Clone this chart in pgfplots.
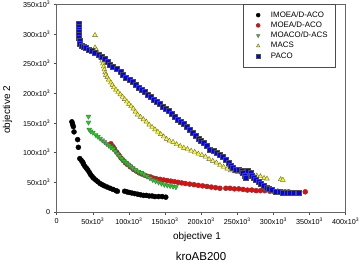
\documentclass[border=0pt]{standalone}
\usepackage{pgfplots}
\pgfplotsset{compat=1.18}
\usepackage{fontspec}
\setmainfont{Liberation Sans}
\definecolor{cBlue}{RGB}{0,0,255}
\definecolor{cGreen}{RGB}{0,230,0}
\definecolor{cYellow}{RGB}{255,255,0}
\definecolor{cRed}{RGB}{255,0,0}
\pgfplotsset{myleg/.style={legend image code/.code={\path[draw=none,fill=none] (0pt,-3pt) rectangle (20.4pt,3pt); \draw[##1, mark size=2pt] plot coordinates {(8.8pt,0pt)};}}}
\begin{document}
\begin{tikzpicture}
\path[use as bounding box] (-56.7pt,-52pt) rectangle (304.3pt,212pt);
\begin{axis}[
  scale only axis, width=289pt, height=207.7pt,
  xmin=0, xmax=400, ymin=0, ymax=350,
  xtick={0,50,...,400}, ytick={0,50,...,350},
  xticklabels={0,50x10\textsuperscript{3},100x10\textsuperscript{3},150x10\textsuperscript{3},200x10\textsuperscript{3},250x10\textsuperscript{3},300x10\textsuperscript{3},350x10\textsuperscript{3},400x10\textsuperscript{3}},
  yticklabels={0,50x10\textsuperscript{3},100x10\textsuperscript{3},150x10\textsuperscript{3},200x10\textsuperscript{3},250x10\textsuperscript{3},300x10\textsuperscript{3},350x10\textsuperscript{3}},
  tick label style={font=\fontsize{7.2}{8}\selectfont},
  xtick pos=left, ytick pos=left, tick align=outside,
  major tick length=3pt,
  axis line style={black!60},
  every tick/.style={black!70},
  xticklabel style={yshift=0.5pt},
  legend style={at={(0.963,1)}, anchor=north east, draw=black!70,
    font=\fontsize{7.9}{9}\selectfont, inner xsep=6pt, inner ysep=5.5pt,
    nodes={text height=6pt, text depth=1.85pt, inner sep=1.2pt}, row sep=0pt},
  legend cell align=left,
  clip=false,
]
\addplot[only marks, mark=*, mark size=2.5pt, mark options={fill=black, draw=black}, myleg] coordinates {
(21,152)(22,148)(23,144)(24,135)(29,122)(30,109)(32,90)(34,87)(36,84)(37,81)(39,77)(41,74)(43,71)(45,67)(47,63)(49,60)(51,57)(54,54)(57,51)(60,48)(63,46)(66,44)(70,42)(74,40)(78,38)(82,36)(84,35)
(94,35)(97,34)(100,33)(104,32)(108,31)(112,30)(116,29)(120,28)(124,28)(128,27)(132,27)(136,26)(141,26)(146,26)(151,25)
};
\addlegendentry{IMOEA/D-ACO}
\addplot[only marks, mark=*, mark size=2.5pt, mark options={fill=cRed, draw=black!70}, myleg] coordinates {
(75,115)(78,110)(80,106)(83,101)(86,96)(89,91)(92,87)(95,83)(98,80)(102,76)(106,72)(110,69)(114,66)(118,64)(122,62)(126,60)(130,59)(134,57)(138,56)(143,55)(148,54)(153,53)(158,52)(163,51)(168,50)(173,49)(178,48)(184,47)(190,46)(196,45)(202,44)(208,43)(214,42)(220,41)(226,40)(234,40)(240,40)(246,39)(252,39)(258,38)(264,37)(270,37)(276,36)(282,36)(288,36)(295,35)(300,35)(306,35)(311,34)(316,34)(321,34)(344,34)
};
\addlegendentry{MOEA/D-ACO}
\addplot[only marks, mark=triangle*, mark size=2.8pt, mark options={rotate=180, fill=cGreen, draw=black!60}, myleg] coordinates {
(44,161)(44,151)(45,139)(47,136)(50,134)(54,130)(57,127)(60,124)(63,121)(66,118)(69,115)(72,112)(75,109)(78,106)(81,102)(84,98)(87,94)(90,90)(93,86)(96,83)(99,80)(102,77)(105,74)(109,71)(113,68)(117,66)(121,63)(125,60)(129,57)(133,54)(137,52)(141,50)(145,48)(149,46)(153,45)(157,44)(161,43)(165,42)
};
\addlegendentry{MOACO/D-ACS}
\addplot[only marks, mark=triangle*, mark size=2.8pt, mark options={fill=cYellow, draw=black!60}, myleg] coordinates {
(53,298)(53,277)(55,273)(57,268)(59,264)(61,260)(63,255)(64,250)(65,245)(66,240)(67,235)(68,231)(70,227)(72,223)(75,218)(77,214)(79,210)(82,206)(85,202)(88,198)(91,194)(94,190)(97,186)(100,182)(103,178)(106,174)(109,169)(112,164)(116,160)(120,156)(124,152)(128,147)(132,143)(136,139)(140,135)(144,131)(148,127)(152,123)(156,120)(161,118)(166,114)(171,111)(176,108)(181,106)(186,103)(191,101)(196,98)(201,96)(206,93)(211,89)(216,86)(221,83)(226,79)(231,76)(236,73)(241,70)(246,68)(251,67)(256,66)(262,65)(267,64)(272,62)(277,61)(282,60)(287,57)(291,56)(310,55)(313,54)
};
\addlegendentry{MACS}
\addplot[only marks, mark=square*, mark size=2.5pt, mark options={fill=cBlue, draw=black!70}, myleg] coordinates {
(30,318)(30,313)(30,308)(30.5,303)(31,298)(31,293)(31.5,288)(32,284)(34,281)(37,279)(40,277)(44,274)(48,271)(53,268)(58,265)(62,262)(66,258)(70,254)(74,249)(78,245)(83,241)(88,236)(92,231)(96,227)(101,223)(105,219)(109,214)(113,210)(118,206)(122,203)(126,198)(130,194)(134,190)(138,186)(142,182)(147,178)(151,174)(155,170)(159,165)(163,161)(168,156)(172,152)(176,148)(180,143)(184,139)(188,134)(192,129)(196,124)(200,120)(204,116)(208,112)(212,105)(217,103)(222,100)(226,97)(230,93)(234,88)(238,83)(241,78)(244,74)(248,72)(252,71)(256,70)(258,67)(260,62)(262,58)(265,70)(268,66)(270,61)(273,58)(276,55)(279,51)(282,48)(286,44)(290,41)(294,39)(298,37)(303,35)(308,34)(313,33)(318,33)(323,33)(328,33)(333,32)(335,32)
};
\addlegendentry{PACO}
\end{axis}
\node[font=\fontsize{10}{12}\selectfont] at (140.3pt,-25pt) {objective 1};
\node[font=\fontsize{11.5}{13}\selectfont] at (144.3pt,-44pt) {kroAB200};
\node[font=\fontsize{10}{12}\selectfont, rotate=90] at (-49.2pt,102pt) {objective 2};
\end{tikzpicture}
\end{document}
